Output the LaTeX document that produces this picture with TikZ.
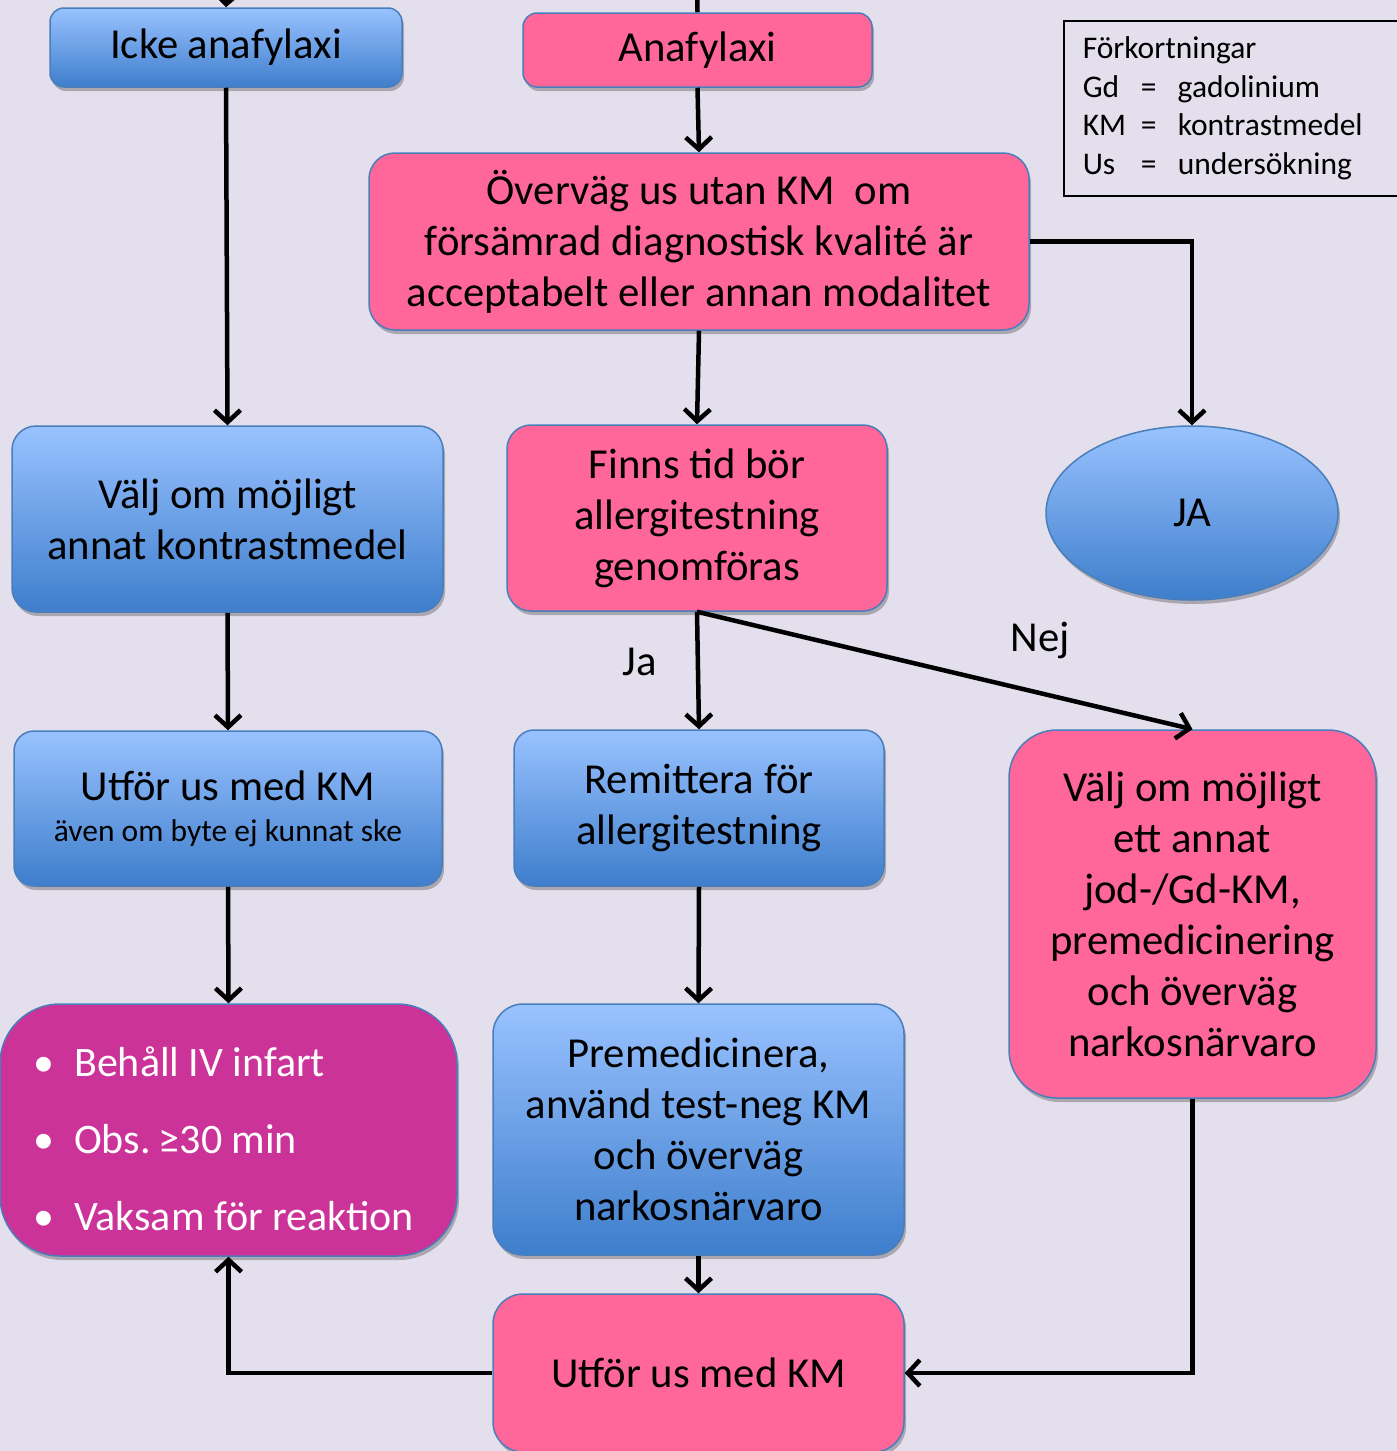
\documentclass[tikz,border=0pt]{standalone}
\usepackage{fontspec}
\setmainfont{Carlito}
\usetikzlibrary{arrows.meta,shapes.geometric,shadows}
\definecolor{bgc}{RGB}{228,223,236}
\definecolor{pinkc}{RGB}{255,102,153}
\definecolor{magc}{RGB}{204,51,153}
\definecolor{bluetop}{RGB}{153,194,255}
\definecolor{bluebot}{RGB}{62,126,204}
\definecolor{edgeb}{RGB}{74,126,187}
\newcommand\fbig{\fontsize{42.7}{51}\selectfont}
\newcommand\fmid{\fontsize{31.5}{38.5}\selectfont}
\tikzset{
 box/.style={draw=edgeb, line width=1.5pt, rounded corners=14pt, inner sep=0pt, align=center, font=\fbig,
   drop shadow={shadow xshift=2pt, shadow yshift=-4pt, opacity=0.25, fill=black}},
 bluebox/.style={box, top color=bluetop, bottom color=bluebot},
 pinkbox/.style={box, fill=pinkc},
 arr/.style={line width=4.5pt, -{Straight Barb[length=12pt,width=26pt]}},
 plain/.style={line width=4.5pt},
 lbl/.style={font=\fbig, inner sep=0pt}
}
\begin{document}
\begin{tikzpicture}[x=1pt,y=-1pt]
\useasboundingbox (0,0) rectangle (1397,1451);
\fill[bgc] (0,0) rectangle (1397,1451);

% nodes
\node[bluebox, minimum width=352pt, minimum height=79pt] (icke) at (226,47.5) {Icke anafylaxi};
\node[pinkbox, minimum width=349pt, minimum height=74pt] (ana) at (697.5,50) {Anafylaxi};
\node[pinkbox, rounded corners=26pt, minimum width=660pt, minimum height=177pt] (overv) at (699,241.5)
  {Överväg us utan KM\ \ om\\försämrad diagnostisk kvalité är\\acceptabelt eller annan modalitet};
\node[draw=black, line width=1.5pt, anchor=north west, minimum width=340pt, minimum height=175pt,
  inner xsep=19pt, inner ysep=0pt, align=left, font=\fmid, text width=302pt] (leg) at (1063,20)
  {Förkortningar\\
   \makebox[58pt][l]{Gd}\makebox[37pt][l]{=}gadolinium\\
   \makebox[58pt][l]{KM}\makebox[37pt][l]{=}kontrastmedel\\
   \makebox[58pt][l]{Us}\makebox[37pt][l]{=}undersökning};
\node[bluebox, rounded corners=24pt, minimum width=431pt, minimum height=186pt] (valj1) at (227.5,519)
  {Välj om möjligt\\annat kontrastmedel};
\node[pinkbox, rounded corners=24pt, minimum width=380pt, minimum height=186pt] (finns) at (697,518)
  {Finns tid bör\\allergitestning\\genomföras};
\node[bluebox, ellipse, minimum width=292pt, minimum height=174pt] (ja) at (1192,513) {JA};
\node[bluebox, rounded corners=20pt, minimum width=428pt, minimum height=155pt] (utf1) at (228,808.5)
  {Utför us med KM\\[-10pt]{\fontsize{31.5}{36}\selectfont även om byte ej kunnat ske}};
\node[bluebox, rounded corners=20pt, minimum width=370pt, minimum height=156pt] (rem) at (699,808)
  {Remittera för\\allergitestning};
\node[pinkbox, rounded corners=48pt, minimum width=367pt, minimum height=368pt] (valj2) at (1192.5,914)
  {Välj om möjligt\\ett annat\\jod-/Gd-KM,\\premedicinering\\och överväg\\narkosnärvaro};
\node[box, fill=magc, rounded corners=60pt, minimum width=457pt, minimum height=252pt] (bul) at (228.5,1130) {};
\node[anchor=west, align=left, inner sep=0pt, text=white, font=\fontsize{42}{77}\selectfont] (bultext) at (33,1139)
  {\makebox[41pt][l]{•}Behåll IV infart\\
   \makebox[41pt][l]{•}Obs.\hspace{8pt}≥30 min\\
   \makebox[41pt][l]{•}Vaksam för reaktion};
\node[bluebox, rounded corners=30pt, minimum width=411pt, minimum height=251pt] (prem) at (698.5,1129.5)
  {Premedicinera,\\använd test-neg KM\\och överväg\\narkosnärvaro};
\node[pinkbox, rounded corners=30pt, minimum width=411pt, minimum height=158pt] (utf2) at (698.5,1373)
  {Utför us med KM};

% labels
\node[lbl] (lja) at (640,662) {Ja};
\node[lbl] (lnej) at (1040,640) {Nej};

% free ends above the picture
\coordinate (topL) at (228,-40);
\coordinate (topM) at (697,-40);

% connectors
\draw[arr] (topL) -- (icke.north);
\draw[plain] (topM) -- (ana.north);
\draw[arr] (icke.south) -- (valj1.north);
\draw[arr] (ana.south) -- (overv.north);
\draw[arr] (overv.east) -| (ja.north);
\draw[arr] (overv.south) -- (finns.north);
\draw[arr] (finns.south) -- (rem.north);
\draw[arr] (finns.south) -- (valj2.north);
\draw[arr] (valj1.south) -- (utf1.north);
\draw[arr] (utf1.south) -- (bul.north);
\draw[arr] (rem.south) -- (prem.north);
\draw[arr] (prem.south) -- (utf2.north);
\draw[arr] (valj2.south) |- (utf2.east);
\draw[arr] (utf2.west) -| (bul.south);
\end{tikzpicture}
\end{document}
